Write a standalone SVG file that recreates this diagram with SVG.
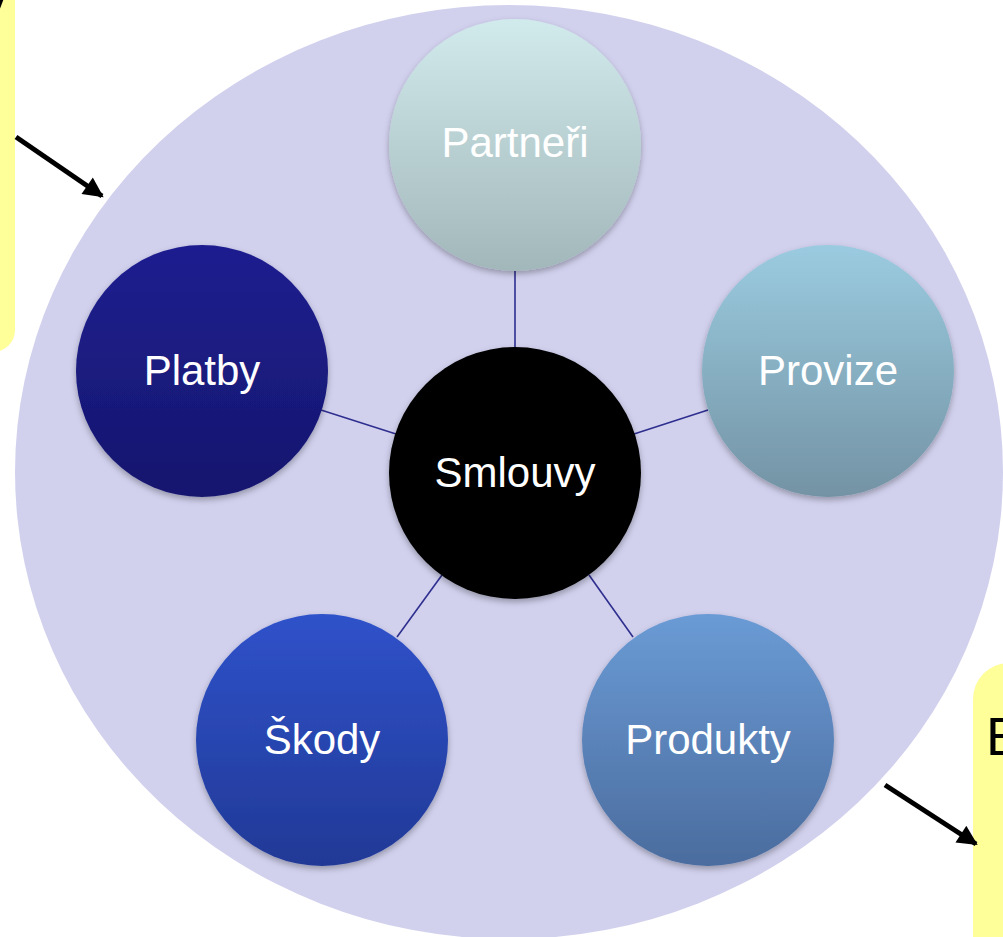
<svg xmlns="http://www.w3.org/2000/svg" width="1003" height="937" viewBox="0 0 1003 937">
<defs>
<style>
.lbl{font-family:"Liberation Sans",Arial,sans-serif;font-size:42px;fill:#FFFFFF;text-anchor:middle}
.conn{stroke:#2E2E8F;stroke-width:1.6;fill:none}
.arr{stroke:#000;stroke-width:5;fill:none;marker-end:url(#ah)}
.note{fill:#FFFF99}
</style>
<marker id="ah" viewBox="0 0 10 10" refX="9" refY="5" markerWidth="4.2" markerHeight="4" orient="auto" markerUnits="strokeWidth">
<path d="M0,0 L10,5 L0,10 Z" fill="#000"/>
</marker>
<filter id="sh" x="-20%" y="-20%" width="140%" height="140%">
<feDropShadow dx="0" dy="3" stdDeviation="3" flood-color="#000" flood-opacity="0.3"/>
</filter>
<linearGradient id="gPar" x1="0" y1="0" x2="0" y2="1"><stop offset="0" stop-color="#D1EAEC"/><stop offset="1" stop-color="#A2B7BA"/></linearGradient>
<linearGradient id="gPla" x1="0" y1="0" x2="0" y2="1"><stop offset="0" stop-color="#1E1F90"/><stop offset="1" stop-color="#16166E"/></linearGradient>
<linearGradient id="gPro" x1="0" y1="0" x2="0" y2="1"><stop offset="0" stop-color="#9BCBE0"/><stop offset="1" stop-color="#7393A4"/></linearGradient>
<linearGradient id="gSko" x1="0" y1="0" x2="0" y2="1"><stop offset="0" stop-color="#2F52CA"/><stop offset="1" stop-color="#213996"/></linearGradient>
<linearGradient id="gPrd" x1="0" y1="0" x2="0" y2="1"><stop offset="0" stop-color="#6A9BD5"/><stop offset="1" stop-color="#4B6C9E"/></linearGradient>
</defs>
<rect width="1003" height="937" fill="#FFFFFF"/>
<g id="note-left">
<rect class="note" x="-40" y="-40" width="55" height="392" rx="22"/>
<text x="5" y="24" font-family="Liberation Sans,Arial,sans-serif" font-size="54" text-anchor="end" fill="#000">v</text>
</g>
<g id="note-right">
<rect class="note" x="973" y="663" width="80" height="320" rx="36"/>
<text x="986" y="755" font-family="Liberation Sans,Arial,sans-serif" font-size="54" fill="#000">E</text>
</g>
<g id="background">
<ellipse cx="509" cy="472" rx="494" ry="467" fill="#D1D1EE"/>
</g>
<g id="connectors">
<line class="conn" x1="515" y1="271" x2="515" y2="347"/>
<line class="conn" x1="321" y1="410" x2="396" y2="434"/>
<line class="conn" x1="708" y1="410" x2="634" y2="434"/>
<line class="conn" x1="397" y1="637" x2="442" y2="575"/>
<line class="conn" x1="633" y1="637" x2="589" y2="575"/>
<line class="arr" x1="16" y1="137" x2="102" y2="196"/>
<line class="arr" x1="885" y1="785" x2="976" y2="844"/>
</g>
<g id="node-partneri">
<circle cx="515" cy="145" r="126" fill="url(#gPar)" filter="url(#sh)"/>
<text class="lbl" x="515" y="157">Partneři</text>
</g>
<g id="node-platby">
<circle cx="202" cy="371" r="126" fill="url(#gPla)" filter="url(#sh)"/>
<text class="lbl" x="202" y="385">Platby</text>
</g>
<g id="node-provize">
<circle cx="828" cy="371" r="126" fill="url(#gPro)" filter="url(#sh)"/>
<text class="lbl" x="828" y="385">Provize</text>
</g>
<g id="node-skody">
<circle cx="322" cy="740" r="126" fill="url(#gSko)" filter="url(#sh)"/>
<text class="lbl" x="322" y="754">Škody</text>
</g>
<g id="node-produkty">
<circle cx="708" cy="740" r="126" fill="url(#gPrd)" filter="url(#sh)"/>
<text class="lbl" x="708" y="754">Produkty</text>
</g>
<g id="node-smlouvy">
<circle cx="515" cy="473" r="126" fill="#000000" filter="url(#sh)"/>
<text class="lbl" x="515" y="487">Smlouvy</text>
</g>
</svg>
